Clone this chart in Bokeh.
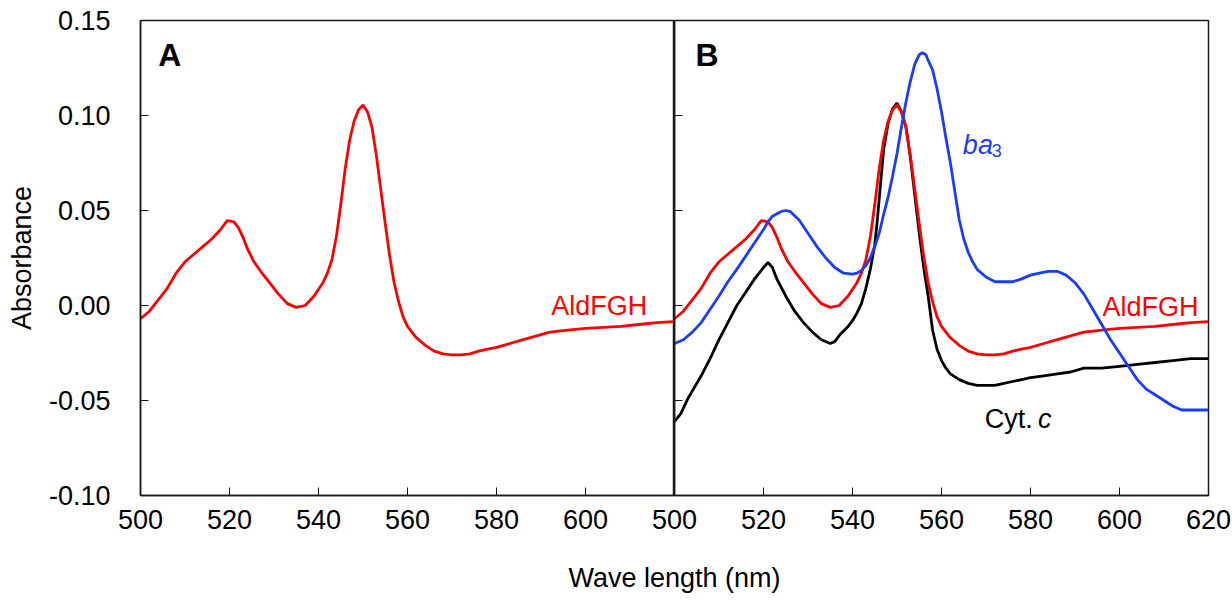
from bokeh.plotting import figure
from bokeh.layouts import row, column
from bokeh.models import Range1d, FixedTicker, Label, NumeralTickFormatter
from bokeh.embed import file_html
from bokeh.resources import INLINE

# ---------------- data ----------------
red_wl = [500, 502, 504, 506, 508, 510, 512, 514, 516, 518,
          519.5, 521, 522, 523, 524, 525.5, 527, 529, 531, 533,
          535, 537, 539, 541, 542, 543, 544, 545, 546, 547,
          548, 549, 550, 551, 552, 553, 554, 555, 556, 557,
          558, 559, 560, 562, 564, 566, 568, 570, 572, 574,
          576, 578, 580, 583, 586, 589, 592, 596, 600, 604,
          608, 612, 616, 620]
red_abs = [-0.007, -0.003, 0.003, 0.009, 0.017, 0.023, 0.027, 0.031, 0.035, 0.040,
           0.0447, 0.044, 0.041, 0.036, 0.030, 0.023, 0.018, 0.012, 0.006, 0.001,
           -0.001, 0.000, 0.005, 0.012, 0.017, 0.024, 0.036, 0.053, 0.072, 0.087,
           0.097, 0.103, 0.1055, 0.102, 0.094, 0.079, 0.061, 0.043, 0.026, 0.012,
           0.002, -0.006, -0.011, -0.017, -0.021, -0.024, -0.0255, -0.026, -0.026, -0.0255,
           -0.024, -0.023, -0.022, -0.020, -0.018, -0.016, -0.014, -0.013, -0.012, -0.0115,
           -0.011, -0.010, -0.009, -0.0085]

blue_wl = [500, 502, 504, 506, 508, 510, 512, 514, 516, 518,
           520, 521, 522, 524, 525, 526, 528, 530, 532, 534,
           536, 538, 540, 541, 542, 543, 544, 545, 546, 547,
           548, 549, 550, 551, 552, 553, 554, 555, 555.7, 556.5,
           557, 558, 559, 560, 561, 562, 563, 564, 565, 566,
           567, 568, 570, 572, 574, 576, 578, 580, 582, 584,
           586, 588, 590, 592, 594, 596, 598, 600, 602, 604,
           606, 608, 610, 612, 614, 616, 618, 620]
blue_abs = [-0.020, -0.018, -0.014, -0.009, -0.002, 0.005, 0.0125, 0.019, 0.026, 0.033,
            0.040, 0.044, 0.047, 0.0495, 0.050, 0.0495, 0.045, 0.038, 0.031, 0.025,
            0.020, 0.017, 0.0165, 0.017, 0.0185, 0.021, 0.025, 0.031, 0.038, 0.048,
            0.057, 0.068, 0.080, 0.094, 0.107, 0.118, 0.127, 0.132, 0.133, 0.132,
            0.129, 0.124, 0.114, 0.102, 0.088, 0.075, 0.060, 0.045, 0.035, 0.028,
            0.023, 0.019, 0.015, 0.0125, 0.0125, 0.0125, 0.014, 0.016, 0.017, 0.018,
            0.018, 0.016, 0.012, 0.006, -0.002, -0.010, -0.018, -0.025, -0.032, -0.039,
            -0.044, -0.047, -0.050, -0.053, -0.055, -0.055, -0.055, -0.055]

black_wl = [500, 501.4, 503, 506, 508, 510, 512, 514, 516, 518,
            520, 521, 522, 523, 525, 527, 529, 531, 533, 535,
            536, 537.3, 539, 540, 541, 542, 543, 544, 545, 545.5,
            546, 546.5, 547, 548, 549, 550, 551, 552, 553, 554,
            555, 556, 557, 558, 559, 560, 561, 562, 564, 566,
            568, 570, 572, 574, 576, 578, 580, 583, 586, 589,
            592, 596, 600, 604, 608, 612, 616, 620]
black_abs = [-0.061, -0.057, -0.049, -0.037, -0.028, -0.018, -0.009, 0.000, 0.007, 0.014,
             0.020, 0.0226, 0.020, 0.014, 0.005, -0.003, -0.009, -0.014, -0.018, -0.020,
             -0.019, -0.015, -0.011, -0.008, -0.004, 0.001, 0.009, 0.019, 0.032, 0.043,
             0.056, 0.069, 0.082, 0.096, 0.1035, 0.1065, 0.102, 0.094, 0.078, 0.058,
             0.038, 0.020, 0.005, -0.013, -0.023, -0.029, -0.033, -0.036, -0.039, -0.041,
             -0.042, -0.042, -0.042, -0.041, -0.040, -0.039, -0.038, -0.037, -0.036, -0.035,
             -0.033, -0.033, -0.032, -0.031, -0.030, -0.029, -0.028, -0.028]

y_ticks = [-0.10, -0.05, 0.0, 0.05, 0.10, 0.15]
x_ticks_a = [500, 520, 540, 560, 580, 600]
x_ticks_b = [500, 520, 540, 560, 580, 600, 620]

RED = "#ff0000"
BLUE = "#1a3cff"
BLACK = "#000000"
FONT = "Liberation Sans"
FS = "27px"

FRAME_W = 534
FRAME_H = 475
LEFT = 140
RIGHT = 24
OVER = 24          # panel B's canvas overlaps panel A's by this much
TOP = 20
BOTTOM = 55
AXC = "#1a1a1a"


def style(p, xticks):
    p.outline_line_color = AXC
    p.outline_line_width = 1.5
    p.xgrid.visible = False
    p.ygrid.visible = False
    p.background_fill_color = "white"
    ax = p.xaxis[0]
    ax.ticker = FixedTicker(ticks=xticks)
    ax.major_tick_in = 8
    ax.major_tick_out = 0
    ax.minor_tick_line_color = None
    ax.axis_line_color = AXC
    ax.axis_line_width = 1.5
    ax.major_tick_line_color = AXC
    ax.major_tick_line_width = 1
    ax.major_label_text_font = FONT
    ax.major_label_text_font_size = FS
    ax.major_label_text_color = BLACK
    ax.major_label_standoff = 14


pA = figure(width=LEFT + FRAME_W, height=TOP + FRAME_H + BOTTOM,
            x_range=Range1d(500, 620), y_range=Range1d(-0.10, 0.15),
            output_backend="svg", toolbar_location=None,
            min_border_left=LEFT, min_border_right=0,
            min_border_top=TOP, min_border_bottom=BOTTOM)
style(pA, x_ticks_a)
ya = pA.yaxis[0]
ya.ticker = FixedTicker(ticks=y_ticks)
ya.formatter = NumeralTickFormatter(format="0.00")
ya.major_tick_in = 8
ya.major_tick_out = 0
ya.minor_tick_line_color = None
ya.axis_line_color = AXC
ya.axis_line_width = 1.5
ya.major_tick_line_color = AXC
ya.major_label_text_font = FONT
ya.major_label_text_font_size = FS
ya.major_label_text_color = BLACK
ya.major_label_standoff = 30
ya.axis_label = "Absorbance"
ya.axis_label_text_font = FONT
ya.axis_label_text_font_size = FS
ya.axis_label_text_font_style = "normal"
ya.axis_label_text_color = BLACK
ya.axis_label_standoff = 9

pA.line(red_wl, red_abs, line_color=RED, line_width=2.8)
pA.add_layout(Label(x=504.0, y=0.1316, text="A", text_font=FONT, text_font_size="32px",
                    text_font_style="bold", text_color=BLACK, text_baseline="alphabetic"))
pA.add_layout(Label(x=592.3, y=-0.0005, text="AldFGH", text_font=FONT, text_font_size=FS,
                    text_color=RED, text_baseline="alphabetic"))

pB = figure(width=OVER + FRAME_W + RIGHT, height=TOP + FRAME_H + BOTTOM,
            x_range=Range1d(500, 620), y_range=Range1d(-0.10, 0.15),
            output_backend="svg", toolbar_location=None,
            min_border_left=OVER, min_border_right=RIGHT,
            min_border_top=TOP, min_border_bottom=BOTTOM,
            styles={"margin-left": f"-{OVER}px"})
style(pB, x_ticks_b)
pB.border_fill_alpha = 0
yb = pB.yaxis[0]
yb.ticker = FixedTicker(ticks=y_ticks)
yb.major_tick_in = 8
yb.major_tick_out = 0
yb.minor_tick_line_color = None
yb.axis_line_color = AXC
yb.axis_line_width = 1.5
yb.major_tick_line_color = AXC
yb.major_label_overrides = {t: "" for t in y_ticks}
yb.major_label_standoff = 0

pB.line(black_wl, black_abs, line_color=BLACK, line_width=2.8)
pB.line(red_wl, red_abs, line_color=RED, line_width=2.8)
pB.line(blue_wl, blue_abs, line_color=BLUE, line_width=2.8)

pB.add_layout(Label(x=504.7, y=0.1316, text="B", text_font=FONT, text_font_size="32px",
                    text_font_style="bold", text_color=BLACK, text_baseline="alphabetic"))
pB.add_layout(Label(x=596.2, y=-0.001, text="AldFGH", text_font=FONT, text_font_size=FS,
                    text_color=RED, text_baseline="alphabetic"))
pB.add_layout(Label(x=564.8, y=0.0847, text="ba", text_font=FONT, text_font_size=FS,
                    text_font_style="italic", text_color=BLUE, text_baseline="alphabetic"))
pB.add_layout(Label(x=571.3, y=0.0815, text="3", text_font=FONT, text_font_size="18px",
                    text_color=BLUE, text_baseline="alphabetic"))
pB.add_layout(Label(x=569.7, y=-0.0595, text="Cyt.", text_font=FONT, text_font_size=FS,
                    text_color=BLACK, text_baseline="alphabetic"))
pB.add_layout(Label(x=581.7, y=-0.0595, text="c", text_font=FONT, text_font_size=FS,
                    text_font_style="italic", text_color=BLACK, text_baseline="alphabetic"))

# x-axis title spanning both panels
TH = 48
pT = figure(width=LEFT + 2 * FRAME_W + RIGHT, height=TH, x_range=Range1d(0, 1), y_range=Range1d(0, 1),
            x_axis_type=None, y_axis_type=None,
            output_backend="svg", toolbar_location=None,
            min_border_left=LEFT, min_border_right=RIGHT, min_border_top=0, min_border_bottom=0)
pT.outline_line_color = None
pT.xgrid.visible = False
pT.ygrid.visible = False
pT.add_layout(Label(x=0.5, y=0.42, text="Wave length (nm)", text_font=FONT,
                    text_font_size=FS, text_align="center", text_baseline="middle",
                    text_color=BLACK))

layout = column(row(pA, pB), pT)

open("out.html", "w").write(file_html(layout, INLINE))
